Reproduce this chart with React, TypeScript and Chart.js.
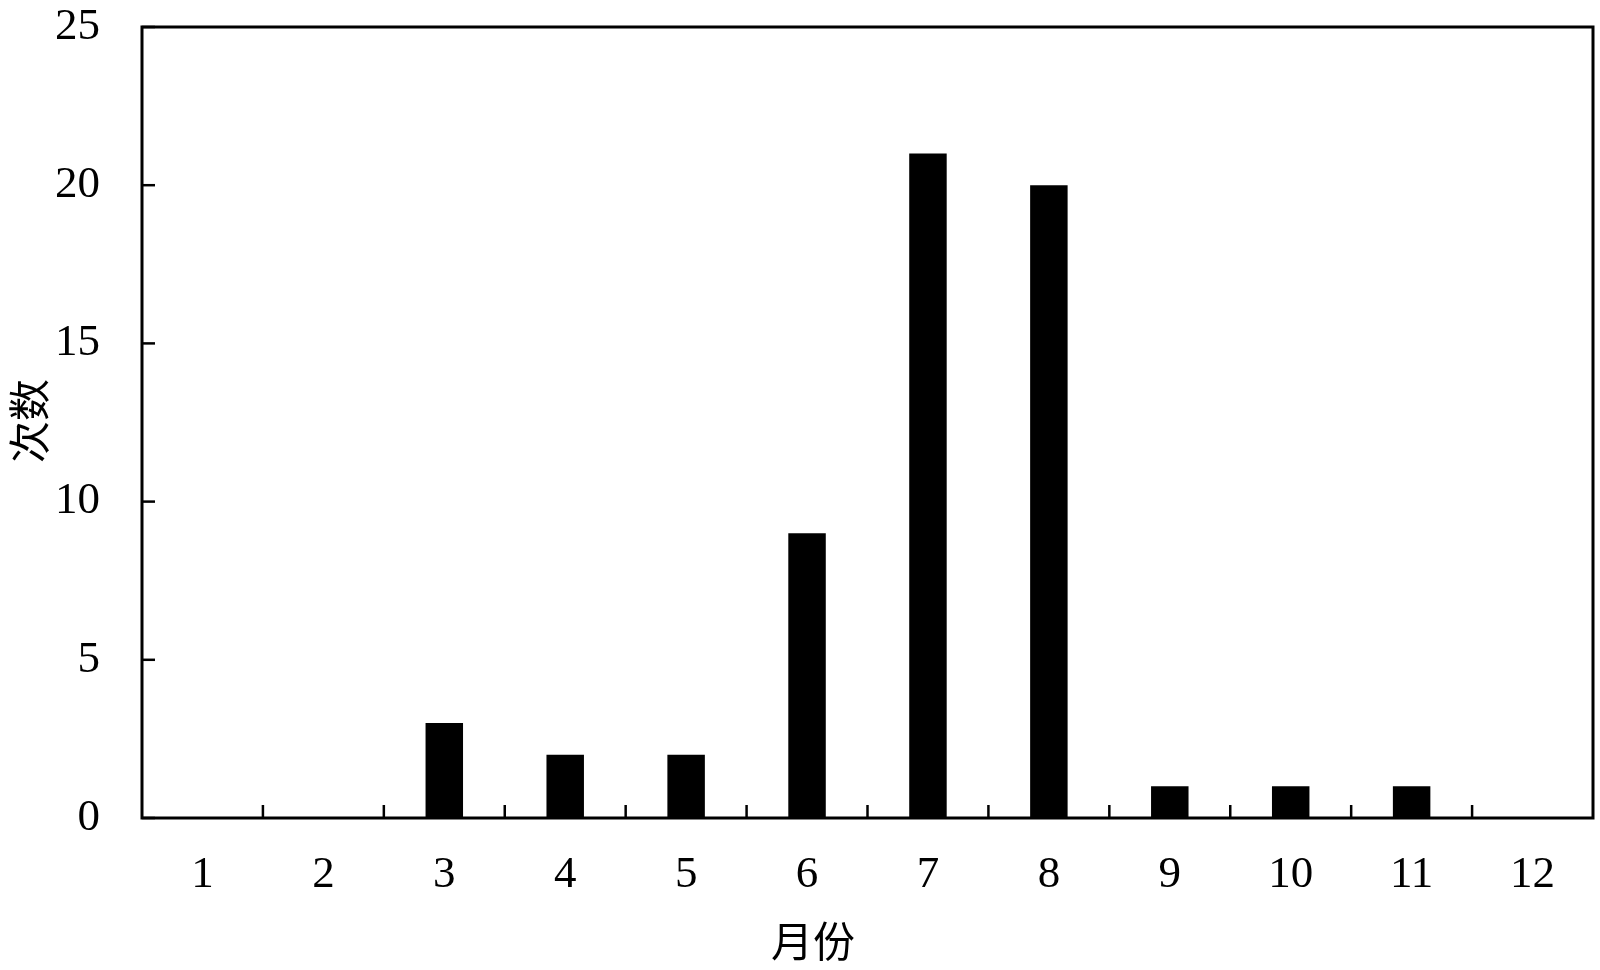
import React, { useEffect, useRef } from "react";
import { Chart, registerables } from "chart.js";

Chart.register(...registerables);

const months: string[] = ["1", "2", "3", "4", "5", "6", "7", "8", "9", "10", "11", "12"];
const counts: number[] = [0, 0, 3, 2, 2, 9, 21, 20, 1, 1, 1, 0];
const yTicks: number[] = [0, 5, 10, 15, 20, 25];
const xTitle = "月份";
const yTitle = "次数";

const SERIF = "'Liberation Serif', 'Times New Roman', serif";
const CJK = "'Noto Sans CJK SC', sans-serif";

const framePlugin = {
  id: "frameAndTicks",
  afterDatasetsDraw(chart: any) {
    const { ctx, chartArea, scales } = chart;
    const { left, right, top, bottom } = chartArea;
    ctx.save();
    ctx.strokeStyle = "#000";
    ctx.lineWidth = 3;
    ctx.strokeRect(left, top, right - left, bottom - top);
    ctx.lineWidth = 2.5;
    const ys = scales.y;
    yTicks.forEach((v) => {
      const py = ys.getPixelForValue(v);
      ctx.beginPath();
      ctx.moveTo(left, py);
      ctx.lineTo(left + 13, py);
      ctx.stroke();
    });
    const xs = scales.x;
    for (let i = 1; i < months.length; i++) {
      const px = (xs.getPixelForValue(i - 1) + xs.getPixelForValue(i)) / 2;
      ctx.beginPath();
      ctx.moveTo(px, bottom);
      ctx.lineTo(px, bottom - 13);
      ctx.stroke();
    }
    ctx.fillStyle = "#000";
    ctx.font = `42px ${CJK}`;
    ctx.textAlign = "center";
    ctx.textBaseline = "middle";
    ctx.fillText(xTitle, 813, 941);
    ctx.translate(29, 421);
    ctx.rotate(-Math.PI / 2);
    ctx.fillText(yTitle, 0, 0);
    ctx.restore();
  },
};

export default function App() {
  const ref = useRef<HTMLCanvasElement | null>(null);
  useEffect(() => {
    document.body.style.margin = "0";
    const canvas = ref.current!;
    const chart = new Chart(canvas, {
      type: "bar",
      data: {
        labels: months,
        datasets: [
          {
            data: counts,
            backgroundColor: "#000",
            borderWidth: 0,
            categoryPercentage: 1,
            barPercentage: 0.31,
          },
        ],
      },
      options: {
        animation: false,
        responsive: false,
        maintainAspectRatio: false,
        layout: { padding: { left: 0, top: 24, right: 7, bottom: 0 } },
        plugins: { legend: { display: false }, tooltip: { enabled: false } },
        scales: {
          x: {
            grid: { display: true, drawOnChartArea: false, drawTicks: true, tickLength: 30, color: "rgba(0,0,0,0)" },
            border: { display: false },
            ticks: { color: "#000", font: { family: SERIF, size: 45 }, padding: 0, maxRotation: 0 },
            afterFit: (s: any) => {
              s.height = 152;
            },
          },
          y: {
            min: 0,
            max: 25,
            grid: { display: true, drawOnChartArea: false, drawTicks: true, tickLength: 42, color: "rgba(0,0,0,0)" },
            border: { display: false },
            afterBuildTicks: (s: any) => {
              s.ticks = yTicks.map((v) => ({ value: v }));
            },
            ticks: { color: "#000", font: { family: SERIF, size: 45 }, padding: 0 },
            afterFit: (s: any) => {
              s.width = 142;
            },
          },
        },
      },
      plugins: [framePlugin],
    });
    return () => chart.destroy();
  }, []);
  return (
    <div style={{ position: "absolute", left: 0, top: 0, width: 1600, height: 970, background: "#fff" }}>
      <canvas ref={ref} width={1600} height={970} style={{ width: 1600, height: 970 }} />
    </div>
  );
}
